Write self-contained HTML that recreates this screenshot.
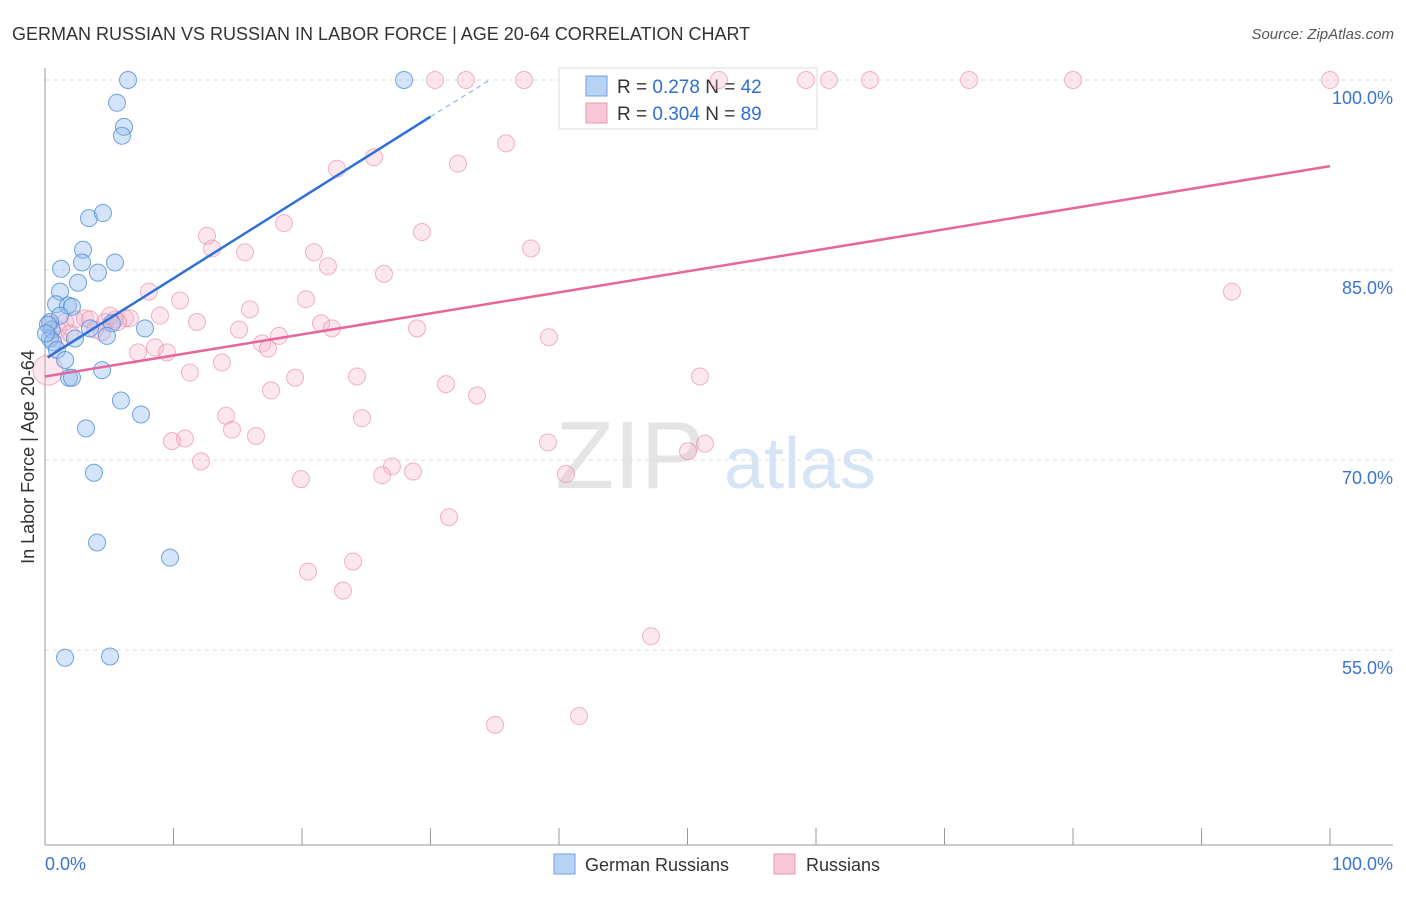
<!DOCTYPE html>
<html><head><meta charset="utf-8"><style>
body{margin:0;background:#fff;font-family:"Liberation Sans",sans-serif;}
svg text{font-family:"Liberation Sans",sans-serif;}
</style></head><body>
<svg id="chart" width="1406" height="892" viewBox="0 0 1406 892" xmlns="http://www.w3.org/2000/svg">
<text x="12" y="40" font-size="18" fill="#333">GERMAN RUSSIAN VS RUSSIAN IN LABOR FORCE | AGE 20-64 CORRELATION CHART</text>
<text x="1394" y="39" font-size="15" fill="#555" font-style="italic" text-anchor="end">Source: ZipAtlas.com</text>
<g>
<text x="630" y="488" font-size="96" fill="#e4e4e4" font-family="Liberation Serif,serif" text-anchor="middle">ZIP</text>
<text x="800" y="488" font-size="72" fill="#d6e4f5" text-anchor="middle">atlas</text>
</g>
<g id="grid"></g>
<g id="axes"></g>
<g>
<rect x="559" y="68" width="258" height="61" fill="#fff" stroke="#ddd"/>
<rect x="586" y="76" width="21" height="20" fill="#b8d2f4" stroke="#6fa0e0"/>
<rect x="586" y="103" width="21" height="20" fill="#f8c6d6" stroke="#e89ab0"/>
<text x="617" y="93" font-size="19" fill="#333">R = <tspan fill="#2f6fd0">0.278</tspan>  N = <tspan fill="#2f6fd0">42</tspan></text>
<text x="617" y="120" font-size="19" fill="#333">R = <tspan fill="#2f6fd0">0.304</tspan>  N = <tspan fill="#2f6fd0">89</tspan></text>
</g>
<g id="marks"></g>
<text transform="translate(34,457) rotate(-90)" font-size="18" fill="#333" text-anchor="middle">In Labor Force | Age 20-64</text>
<g>
<rect x="554" y="854" width="21" height="20" fill="#b8d2f4" stroke="#6fa0e0"/>
<text x="585" y="871" font-size="18" fill="#333">German Russians</text>
<rect x="774" y="854" width="21" height="20" fill="#f8c6d6" stroke="#e89ab0"/>
<text x="806" y="871" font-size="18" fill="#333">Russians</text>
</g>
</svg>
<script>
const yTicks=[100,85,70,55];
const yTickLabels=["100.0%","85.0%","70.0%","55.0%"];
const xTicks=[0,10,20,30,40,50,60,70,80,90,100];
const xEndLabels=["0.0%","100.0%"];
const blueX=[6.46,27.94,5.60,6.15,5.99,3.42,4.51,2.96,2.88,5.45,1.25,4.12,2.57,1.17,0.86,1.79,2.10,1.17,0.39,0.54,5.21,3.50,7.78,2.33,4.82,0.39,0.62,0.93,1.56,4.44,1.87,2.10,5.91,7.47,3.19,3.81,4.05,9.73,1.56,5.06,0.23,0.08];
const blueY=[100,100,98.2,96.3,95.6,89.1,89.5,86.6,85.6,85.6,85.1,84.8,84.0,83.3,82.3,82.2,82.1,81.4,80.9,80.3,80.8,80.4,80.4,79.6,79.8,79.6,79.3,78.7,77.9,77.1,76.5,76.5,74.7,73.6,72.5,69.0,63.5,62.3,54.4,54.5,80.7,80.0];
const pinkX=[30.35,32.76,37.28,52.45,59.22,61.01,64.20,71.91,80.00,100,35.88,25.60,32.14,22.72,18.60,29.34,12.61,13.00,15.56,20.93,37.82,22.02,26.38,92.37,8.09,10.51,15.95,20.31,8.95,11.83,15.10,21.48,22.33,28.95,39.22,18.21,16.89,17.35,8.56,9.49,7.24,13.77,11.28,24.28,19.46,17.59,31.21,33.62,50.97,14.09,24.67,14.55,16.42,10.89,9.88,39.14,50.04,51.36,12.14,27.00,26.23,28.64,19.92,40.54,31.44,23.97,20.47,23.19,47.16,35.02,41.56,0.39,1.01,1.56,2.33,3.11,3.89,4.67,5.45,6.23,6.61,1.17,0.23,1.95,3.50,5.06,5.68,4.44];
const pinkY=[100,100,100,100,100,100,100,100,100,100,95.0,93.9,93.4,93.0,88.7,88.0,87.7,86.7,86.4,86.4,86.7,85.3,84.7,83.3,83.3,82.6,81.9,82.7,81.4,80.9,80.3,80.8,80.4,80.4,79.7,79.8,79.2,78.8,78.9,78.5,78.5,77.7,76.9,76.6,76.5,75.5,76.0,75.1,76.6,73.5,73.3,72.4,71.9,71.7,71.5,71.4,70.7,71.3,69.9,69.5,68.8,69.1,68.5,68.9,65.5,62.0,61.2,59.7,56.1,49.1,49.8,80.7,80.3,80.9,81.1,81.2,80.3,80.9,81.1,81.2,81.2,79.5,77.1,80.0,81.1,81.4,80.9,80.1];
const blueTrendX=[0.2,30.0,34.6];
const blueTrendY=[78.1,97.1,100];
const pinkTrendX=[0,100];
const pinkTrendY=[76.6,93.2];

const NS="http://www.w3.org/2000/svg";
const xs=v=>45+v*12.85;
const ys=v=>80+(100-v)*12.67;
function mk(tag,attrs,parent){const e=document.createElementNS(NS,tag);for(const k in attrs)e.setAttribute(k,attrs[k]);parent.appendChild(e);return e;}
const grid=document.getElementById('grid'),axes=document.getElementById('axes'),marks=document.getElementById('marks');
yTicks.forEach((t,i)=>{
 const l=mk('line',{x1:45,x2:1393,y1:ys(t),y2:ys(t),stroke:'#ddd','stroke-dasharray':'4,4'},grid);
 
 
 const tx=mk('text',{x:1393,y:ys(t)+24,'font-size':18,fill:'#3a74d0','text-anchor':'end'},axes);
 tx.textContent=yTickLabels[i];
 
 
});
const ya=mk('line',{x1:45,x2:45,y1:68,y2:845,stroke:'#999'},axes);


const xa=mk('line',{x1:45,x2:1393,y1:845,y2:845,stroke:'#999'},axes);


xTicks.forEach(t=>{
 const l=mk('line',{x1:xs(t),x2:xs(t),y1:828,y2:845,stroke:'#999'},axes);
 
 
});
const xl0=mk('text',{x:45,y:870,'font-size':18,fill:'#3a74d0'},axes);xl0.textContent=xEndLabels[0];


const xl1=mk('text',{x:1393,y:870,'font-size':18,fill:'#3a74d0','text-anchor':'end'},axes);xl1.textContent=xEndLabels[1];



pinkX.forEach((x,i)=>{
 const c=mk('circle',{cx:xs(x),cy:ys(pinkY[i]),r:(i===82?15:8.5),fill:'rgba(245,175,200,0.3)',stroke:'rgba(232,130,165,0.6)','stroke-width':1},marks);
 
 
});
blueX.forEach((x,i)=>{
 const c=mk('circle',{cx:xs(x),cy:ys(blueY[i]),r:8.5,fill:'rgba(150,190,240,0.4)',stroke:'rgba(80,140,215,0.8)','stroke-width':1},marks);
 
 
});
const bt=mk('line',{x1:xs(blueTrendX[0]),y1:ys(blueTrendY[0]),x2:xs(blueTrendX[1]),y2:ys(blueTrendY[1]),stroke:'#2f6fd8','stroke-width':2.5},marks);


const bd=mk('line',{x1:xs(blueTrendX[1]),y1:ys(blueTrendY[1]),x2:xs(blueTrendX[2]),y2:ys(blueTrendY[2]),stroke:'#8fb4e8','stroke-width':1.2,'stroke-dasharray':'5,4'},marks);


const pt=mk('line',{x1:xs(pinkTrendX[0]),y1:ys(pinkTrendY[0]),x2:xs(pinkTrendX[1]),y2:ys(pinkTrendY[1]),stroke:'#e8659a','stroke-width':2.5},marks);


</script>
</body></html>
